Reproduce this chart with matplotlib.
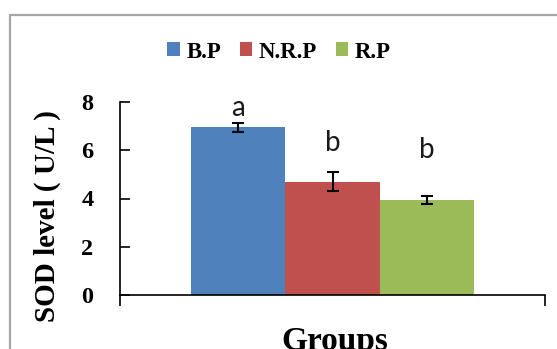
import matplotlib
matplotlib.use('Agg')
import matplotlib.pyplot as plt
from matplotlib.patches import Rectangle

# Data
groups = ['B.P', 'N.R.P', 'R.P']
sod_values = [6.95, 4.70, 3.95]
sod_errors = [0.20, 0.40, 0.17]
sig_letters = ['a', 'b', 'b']
letter_y = [7.42, 5.97, 5.68]
colors = ['#4F81BD', '#C0504D', '#9BBB59']

plt.rcParams['font.family'] = ['Liberation Serif', 'DejaVu Serif']
plt.rcParams['font.weight'] = 'bold'

fig = plt.figure(figsize=(5.57, 3.49), dpi=100)
ax = fig.add_axes([120 / 557, 1 - 295 / 349, 425 / 557, 193 / 349])

# Excel-style cluster: one category, bars side by side, gap 150%
width = 0.2224
xs = [0.5 + (i - 1) * width for i in range(len(groups))]
for x, v, e, c, g in zip(xs, sod_values, sod_errors, colors, groups):
    ax.bar(x, v, width=width, color=c, label=g, zorder=2)
    ax.errorbar(x, v, yerr=e, fmt='none', ecolor='black', elinewidth=1.5,
                capsize=4.5, capthick=1.5, zorder=3)

for x, t, y in zip(xs, sig_letters, letter_y):
    ax.text(x, y, t, ha='center', va='baseline', fontsize=20,
            family=['Lato', 'DejaVu Sans'], fontweight='normal', color='#1a1a1a')

ax.set_xlim(0, 1)
ax.set_ylim(0, 8)
ax.set_yticks([0, 2, 4, 6, 8])
ax.set_xticks([0, 1])
ax.set_xticklabels([])
ax.tick_params(axis='y', direction='in', length=7, width=1.2, labelsize=17.5, pad=19)
ax.tick_params(axis='x', direction='out', length=8, width=1.2)
for lab in ax.get_yticklabels():
    lab.set_fontweight('bold')
for s in ['top', 'right']:
    ax.spines[s].set_visible(False)
for s in ['left', 'bottom']:
    ax.spines[s].set_linewidth(1.2)
    ax.spines[s].set_zorder(4)

fig.text(47 / 557, 1 - 216 / 349, 'SOD level ( U/L )', rotation=90, ha='center',
         va='center', fontsize=21, fontweight='bold')
fig.text(335 / 557, 1 - 326 / 349, 'Groups', ha='center', va='top',
         fontsize=24, fontweight='bold')

fig.legend(loc='center', bbox_to_anchor=(279 / 557, 1 - 52 / 349), ncol=3,
           frameon=False, prop={'size': 16.5, 'weight': 'bold'},
           handlelength=0.55, handleheight=0.55, handletextpad=0.3,
           columnspacing=0.8)

# outer chart-area border (cut off at right and bottom like the reference)
fig.add_artist(Rectangle((10 / 557, -0.2), 1.5, 1.2 - 15 / 349,
                         transform=fig.transFigure, fill=False,
                         edgecolor='#a6a6a6', linewidth=1.6))

plt.savefig('out.png', dpi=100)
